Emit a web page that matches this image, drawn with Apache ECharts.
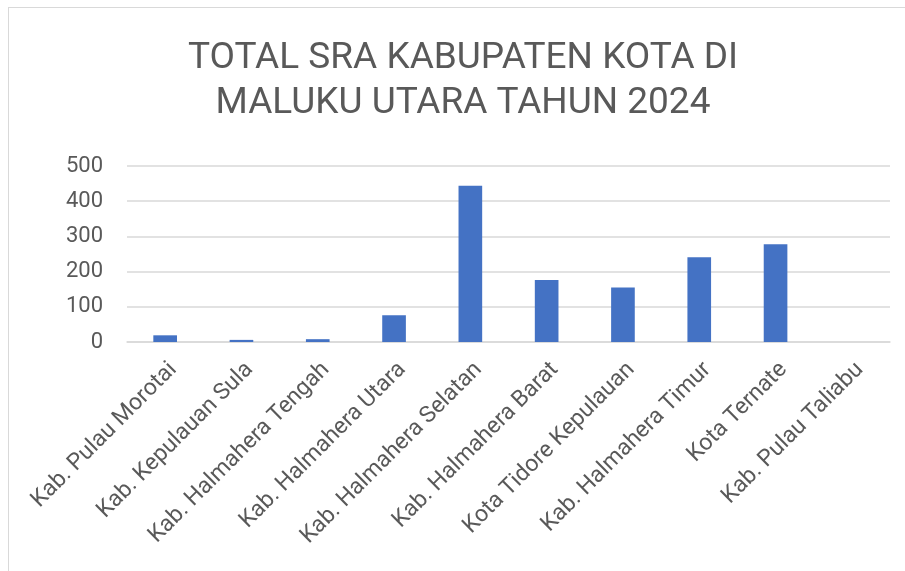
<!DOCTYPE html>
<html>
<head>
<meta charset="utf-8">
<script src="https://cdn.jsdelivr.net/npm/echarts@6/dist/echarts.min.js"></script>
<style>
  html, body { margin: 0; padding: 0; background: #fff; }
  #chart {
    position: absolute; left: 8px; top: 7px;
    width: 896px; height: 563px;
    border-top: 1px solid #d9d9d9; border-left: 1px solid #d9d9d9;
  }
</style>
</head>
<body>
<div id="chart"></div>
<script>
// data
const titleText = 'TOTAL SRA KABUPATEN KOTA DI\nMALUKU UTARA TAHUN 2024';
const categories = [
    'Kab. Pulau Morotai', 'Kab. Kepulauan Sula', 'Kab. Halmahera Tengah',
    'Kab. Halmahera Utara', 'Kab. Halmahera Selatan', 'Kab. Halmahera Barat',
    'Kota Tidore Kepulauan', 'Kab. Halmahera Timur', 'Kota Ternate', 'Kab. Pulau Taliabu'
];
const totalSRA = [19, 6, 8, 76, 444, 176, 155, 241, 278, 0];
const yTicks = { min: 0, max: 500, interval: 100 };

let myChart = echarts.init(document.getElementById('chart'));
let option = {
    animation: false,
    title: {
        text: titleText,
        left: 449,
        top: 23,
        textAlign: 'center',
        padding: 5,
        textStyle: {
            fontFamily: 'Roboto',
            fontSize: 37,
            fontWeight: 'normal',
            color: '#595959',
            lineHeight: 45
        }
    },
    grid: {
        left: 118,
        right: 15,
        top: 158,
        height: 176
    },
    xAxis: {
        type: 'category',
        data: categories,
        axisTick: { show: false },
        axisLine: { lineStyle: { color: '#d9d9d9', width: 1.5 } },
        axisLabel: {
            rotate: 45,
            interval: 0,
            margin: 16,
            verticalAlign: 'top',
            fontFamily: 'Roboto',
            fontSize: 23,
            color: '#595959'
        }
    },
    yAxis: {
        type: 'value',
        min: yTicks.min,
        max: yTicks.max,
        interval: yTicks.interval,
        axisLine: { show: false },
        axisTick: { show: false },
        splitLine: { lineStyle: { color: '#d9d9d9', width: 1.5 } },
        axisLabel: {
            margin: 24,
            fontFamily: 'Roboto',
            fontSize: 22,
            color: '#595959'
        }
    },
    series: [{
        name: 'Total SRA',
        type: 'bar',
        barWidth: '31%',
        data: totalSRA,
        itemStyle: { color: '#4472c4' }
    }]
};
myChart.setOption(option);
</script>
</body>
</html>
